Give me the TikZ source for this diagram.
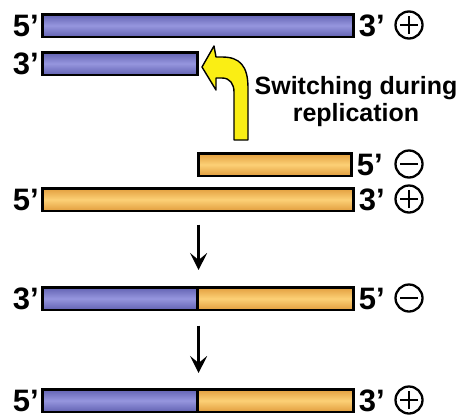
\documentclass[tikz,border=0pt]{standalone}
\usepackage{fontspec}
\setmainfont{Liberation Sans}
\usetikzlibrary{arrows.meta}
\definecolor{blueD}{RGB}{98,98,178}
\definecolor{blueL}{RGB}{150,150,222}
\definecolor{oraD}{RGB}{226,158,62}
\definecolor{oraL}{RGB}{252,208,118}
\definecolor{arrY}{RGB}{250,238,20}
\begin{document}
\begin{tikzpicture}[x=1pt,y=-1pt,
  barbase/.style={draw=black, line width=2.6pt, inner sep=0pt, minimum height=22.5pt, anchor=north west},
  bluebar/.style={barbase, top color=blueD, bottom color=blueD, middle color=blueL},
  orabar/.style={barbase, top color=oraD, bottom color=oraD, middle color=oraL},
  endlbl/.style={font=\bfseries\fontsize{31}{31}\selectfont, inner sep=0pt},
  sgnbase/.style={circle, draw=black, line width=2.3pt, minimum size=27pt, inner sep=0pt},
  plussign/.style={sgnbase, path picture={
      \draw[line width=2.6pt] ([xshift=-9pt]path picture bounding box.center) -- ([xshift=9pt]path picture bounding box.center);
      \draw[line width=2.6pt] ([yshift=-9pt]path picture bounding box.center) -- ([yshift=9pt]path picture bounding box.center);}},
  minussign/.style={sgnbase, path picture={
      \draw[line width=2.6pt] ([xshift=-9pt]path picture bounding box.center) -- ([xshift=9pt]path picture bounding box.center);}},
  steparrow/.style={line width=2.6pt, -{Stealth[length=17pt, width=17pt, inset=7pt]}}
]
\useasboundingbox (0,0) rectangle (465,418);

% row 1
\node[bluebar, minimum width=311pt] (b1) at (41,13) {};
\node[endlbl, anchor=east] (b1l) at ([xshift=-2pt]b1.west) {5’};
\node[endlbl, anchor=west] (b1r) at ([xshift=4pt]b1.east) {3’};
\node[plussign] (b1s) at (409,25) {};

% row 2
\node[bluebar, minimum width=155pt] (b2) at (41,51) {};
\node[endlbl, anchor=east] (b2l) at ([xshift=-2pt]b2.west) {3’};

% label
\node[font=\bfseries\fontsize{25}{27}\selectfont, align=center, anchor=north, inner sep=0pt] (sw) at (356,76) {Switching during\\replication};

% yellow switching arrow
\path[fill=arrY, draw=black, line width=1.4pt, line join=round]
  (248,140) -- (248,88) .. controls (248,66) and (240,57) .. (222,57) -- (216,57)
  -- (214,46) -- (202,67) -- (216,90) -- (216,78) -- (222,78)
  .. controls (230,78) and (234,84) .. (234,92) -- (234,140) -- cycle;

% row 3
\node[orabar, minimum width=153pt] (b3) at (197,152) {};
\node[endlbl, anchor=west] (b3r) at ([xshift=4pt]b3.east) {5’};
\node[minussign] (b3s) at (409,164) {};

% row 4
\node[orabar, minimum width=311pt] (b4) at (41,187) {};
\node[endlbl, anchor=east] (b4l) at ([xshift=-2pt]b4.west) {5’};
\node[endlbl, anchor=west] (b4r) at ([xshift=4pt]b4.east) {3’};
\node[plussign] (b4s) at (409,199) {};

% row 5
\node[bluebar, minimum width=155pt] (b5a) at (41,286) {};
\node[orabar, minimum width=156pt] (b5b) at (196,286) {};
\node[endlbl, anchor=east] (b5l) at ([xshift=-2pt]b5a.west) {3’};
\node[endlbl, anchor=west] (b5r) at ([xshift=4pt]b5b.east) {5’};
\node[minussign] (b5s) at (409,298) {};

% row 6
\node[bluebar, minimum width=155pt] (b6a) at (41,388) {};
\node[orabar, minimum width=156pt] (b6b) at (196,388) {};
\node[endlbl, anchor=east] (b6l) at ([xshift=-2pt]b6a.west) {5’};
\node[endlbl, anchor=west] (b6r) at ([xshift=4pt]b6b.east) {3’};
\node[plussign] (b6s) at (409,400) {};

% step arrows
\draw[steparrow] ([yshift=-12.5pt]b4.south -| b5a.east) -- ([yshift=16pt]b5a.north east);
\draw[steparrow] ([yshift=-14.5pt]b5a.south east) -- ([yshift=15pt]b6a.north east);
\end{tikzpicture}
\end{document}
